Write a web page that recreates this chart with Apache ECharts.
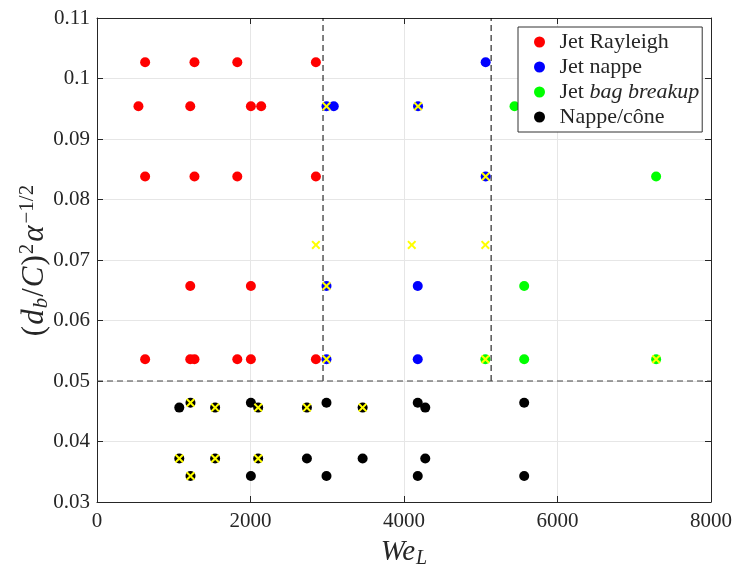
<!DOCTYPE html>
<html>
<head>
<meta charset="utf-8">
<script src="https://cdn.jsdelivr.net/npm/echarts@6/dist/echarts.min.js"></script>
<style>html,body{margin:0;padding:0;background:#fff}#c{width:735px;height:574px}</style>
</head>
<body>
<div id="c"></div>
<script>
// ---- data ----
const rayleighX = [627,1270,1828,2852, 540,1215,2005,2139, 627,1270,1828,2852, 1215,2005, 627,1215,1270,1828,2005,2852];
const rayleighY = [0.1027,0.1027,0.1027,0.1027, 0.0954,0.0954,0.0954,0.0954, 0.0838,0.0838,0.0838,0.0838, 0.0657,0.0657, 0.0536,0.0536,0.0536,0.0536,0.0536,0.0536];
const nappeX = [5064, 2990,3085,4183, 5064, 2990,4179, 2990,4179];
const nappeY = [0.1027, 0.0954,0.0954,0.0954, 0.0838, 0.0657,0.0657, 0.0536,0.0536];
const bagX = [5440, 7285, 5566, 5060,5566,7285];
const bagY = [0.0954, 0.0838, 0.0657, 0.0536,0.0536,0.0536];
const coneX = [1218,2005,2990,4179,5566, 1072,1539,2100,2735,3461,4277, 1072,1539,2100,2735,3461,4277, 1218,2005,2990,4179,5566];
const coneY = [0.0464,0.0464,0.0464,0.0464,0.0464, 0.0456,0.0456,0.0456,0.0456,0.0456,0.0456, 0.0372,0.0372,0.0372,0.0372,0.0372,0.0372, 0.0343,0.0343,0.0343,0.0343,0.0343];
const crossX = [2852,4101,5060, 2990,4183, 5064, 2990, 2990,5060,7285, 1218, 1539,2100,2735,3461, 1072,1539,2100, 1218];
const crossY = [0.0725,0.0725,0.0725, 0.0954,0.0954, 0.0838, 0.0657, 0.0536,0.0536,0.0536, 0.0464, 0.0456,0.0456,0.0456,0.0456, 0.0372,0.0372,0.0372, 0.0343];
const boundaryWe = [2945, 5135];
const boundaryY = 0.05;
const xTicks = [0, 2000, 4000, 6000, 8000];
const yTicks = [0.03, 0.04, 0.05, 0.06, 0.07, 0.08, 0.09, 0.1, 0.11];
const seriesNames = ['Jet Rayleigh', 'Jet nappe', 'Jet bag breakup', 'Nappe/cône'];

// ---- helpers ----
const zip = (xs, ys) => xs.map((x, i) => [x, ys[i]]);
const FONT = 'Liberation Serif';
const TXT = '#262626';
const AX = '#262626';
const crossPath = 'path://M0,1.6L1.6,0L5,3.4L8.4,0L10,1.6L6.6,5L10,8.4L8.4,10L5,6.6L1.6,10L0,8.4L3.4,5Z';

const chart = echarts.init(document.getElementById('c'), null, {renderer: 'canvas'});

const axisCommon = {
  type: 'value',
  axisLine: {show: true, onZero: false, lineStyle: {color: AX, width: 1}},
  axisTick: {show: true, inside: true, length: 6, lineStyle: {color: AX}},
  splitLine: {show: false},
};

const vLines = boundaryWe.map(w => ({
  type: 'line', data: [[w, boundaryY], [w, yTicks[yTicks.length - 1]]],
  symbol: 'none', silent: true, z: 1,
  lineStyle: {color: '#000', width: 1, type: [6, 4]}
}));
const hLine = {
  type: 'line', data: [[xTicks[0], boundaryY], [xTicks[xTicks.length - 1], boundaryY]],
  symbol: 'none', silent: true, z: 1,
  lineStyle: {color: '#444', width: 1, type: [6, 4]}
};

const scatter = (name, xs, ys, color) => ({
  name, type: 'scatter', data: zip(xs, ys), symbol: 'circle', symbolSize: 10,
  itemStyle: {color, opacity: 1}, z: 3
});

chart.setOption({
  animation: false,
  backgroundColor: '#fff',
  grid: {left: 97, right: 21, top: 18, bottom: 66, containLabel: false},
  xAxis: [
    Object.assign({}, axisCommon, {
      min: 0, max: 8000, interval: 2000, position: 'bottom',
      splitLine: {show: true, lineStyle: {color: '#e6e6e6', width: 1}},
      axisLabel: {color: TXT, fontFamily: FONT, fontSize: 21, margin: 9,
        formatter: v => String(v)},
      name: '{i|We}{sub|L}', nameLocation: 'middle', nameGap: 33, nameMoveOverlap: false,
      nameTextStyle: {
        color: TXT, fontFamily: FONT, fontSize: 29,
        rich: {
          i: {fontFamily: FONT, fontSize: 29, fontStyle: 'italic', color: TXT},
          sub: {fontFamily: FONT, fontSize: 20, fontStyle: 'italic', color: TXT, padding: [14, 0, 0, 1]}
        }
      }
    }),
    Object.assign({}, axisCommon, {
      min: 0, max: 8000, interval: 2000, position: 'top',
      axisLabel: {show: false}
    })
  ],
  yAxis: [
    Object.assign({}, axisCommon, {
      min: 0.03, max: 0.11, interval: 0.01, position: 'left',
      splitLine: {show: true, lineStyle: {color: '#e6e6e6', width: 1}},
      axisLabel: {color: TXT, fontFamily: FONT, fontSize: 21, margin: 7,
        formatter: v => String(parseFloat(v.toFixed(2)))},
      name: '{n|(}{i|d}{sub|b}{n|/}{i|C}{n|)}{sup|2}{i|α}{sup|−1/2}',
      nameLocation: 'middle', nameGap: 45, nameRotate: 90, nameMoveOverlap: false,
      nameTextStyle: {
        color: TXT, fontFamily: FONT, fontSize: 31,
        rich: {
          n: {fontFamily: FONT, fontSize: 31, color: TXT},
          i: {fontFamily: FONT, fontSize: 31, fontStyle: 'italic', color: TXT, padding: [0, 1, 0, 1]},
          sub: {fontFamily: FONT, fontSize: 21, fontStyle: 'italic', color: TXT, padding: [14, 1, 0, 0]},
          sup: {fontFamily: FONT, fontSize: 21, color: TXT, padding: [0, 1, 14, 1]}
        }
      }
    }),
    Object.assign({}, axisCommon, {
      min: 0.03, max: 0.11, interval: 0.01, position: 'right',
      axisLabel: {show: false}
    })
  ],
  legend: {
    data: seriesNames,
    orient: 'vertical',
    left: 518, top: 27,
    itemWidth: 30, itemHeight: 11, itemGap: 3,
    icon: 'circle',
    padding: [4, 3, 4, 16],
    backgroundColor: '#fff',
    borderColor: '#333', borderWidth: 1,
    formatter: n => n === 'Jet bag breakup' ? 'Jet {i|bag breakup}' : n,
    textStyle: {
      color: TXT, fontFamily: FONT, fontSize: 22,
      rich: {i: {fontFamily: FONT, fontSize: 22, fontStyle: 'italic', color: TXT}}
    }
  },
  series: [
    ...vLines,
    hLine,
    scatter(seriesNames[0], rayleighX, rayleighY, '#ff0000'),
    scatter(seriesNames[1], nappeX, nappeY, '#0000ff'),
    scatter(seriesNames[2], bagX, bagY, '#00ff00'),
    scatter(seriesNames[3], coneX, coneY, '#000000'),
    {
      name: 'cross', type: 'scatter', data: zip(crossX, crossY),
      symbol: crossPath, symbolSize: 9, z: 4,
      itemStyle: {color: '#ffff00', opacity: 1}
    }
  ]
});
</script>
</body>
</html>
